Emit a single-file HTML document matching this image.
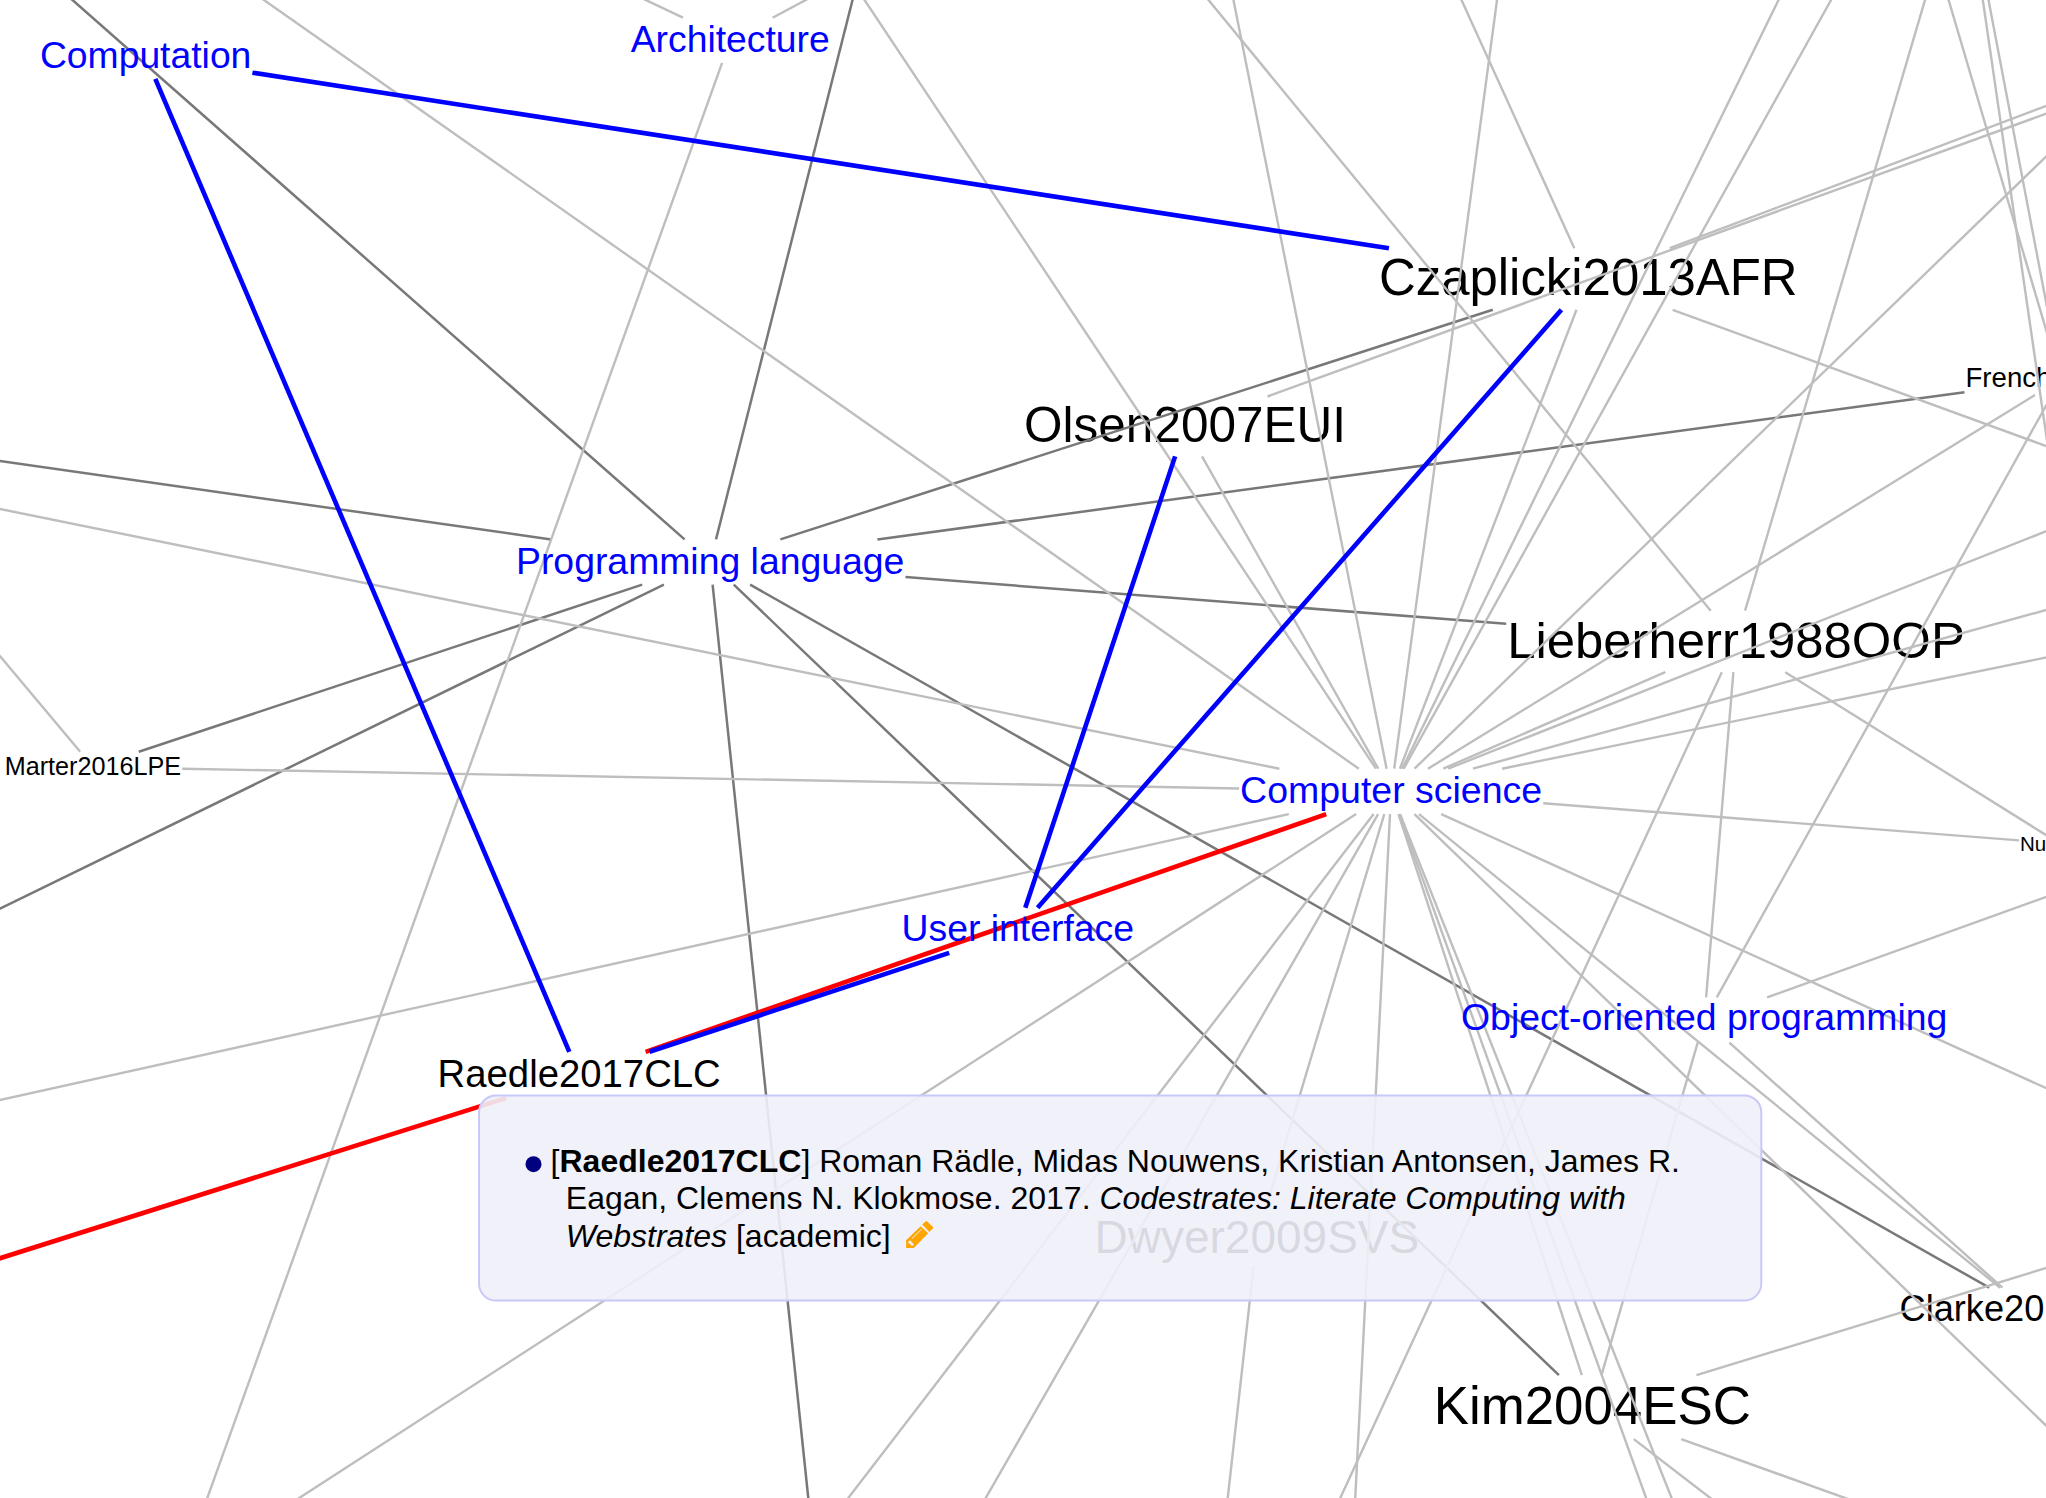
<!DOCTYPE html>
<html><head><meta charset="utf-8"><title>Graph</title>
<style>
html,body{margin:0;padding:0;background:#fff;width:2046px;height:1498px;overflow:hidden}
svg{display:block;position:absolute;left:0;top:0}
text{font-family:"Liberation Sans",sans-serif}
</style></head><body>
<svg width="2046" height="1498" viewBox="0 0 2046 1498">
<rect width="2046" height="1498" fill="#fff"/>
<g>
<text x="1379.0" y="295.0" font-size="50.9" fill="#000000">Czaplicki2013AFR</text>
<text x="1024.1" y="442.0" font-size="49.5" fill="#000000">Olsen2007EUI</text>
<text x="1507.2" y="657.5" font-size="50.82" fill="#000000">Lieberherr1988OOP</text>
<text x="4.7" y="775.0" font-size="25.2" fill="#000000">Marter2016LPE</text>
<text x="437.6" y="1087.0" font-size="38.3" fill="#000000">Raedle2017CLC</text>
<text x="1094.5" y="1252.5" font-size="46.0" fill="#000000">Dwyer2009SVS</text>
<text x="1433.7" y="1423.8" font-size="52.83" fill="#000000">Kim2004ESC</text>
<text x="1965.5" y="387.1" font-size="27.6" fill="#000000">French2013MO</text>
<text x="1899.5" y="1321.0" font-size="36.2" fill="#000000">Clarke2011ABC</text>
<text x="2020.0" y="851.1" font-size="20.5" fill="#000000">Nunes2015XY</text>
</g>
<g stroke="#787878" stroke-width="2.5">
<line x1="684.6" y1="539.4" x2="50.0" y2="-19.8"/>
<line x1="716.0" y1="539.4" x2="859.9" y2="-29.1"/>
<line x1="780.4" y1="539.4" x2="1492.8" y2="309.8"/>
<line x1="877.4" y1="539.4" x2="1964.5" y2="392.3"/>
<line x1="905.5" y1="577.1" x2="1506.2" y2="623.7"/>
<line x1="551.2" y1="539.4" x2="-29.7" y2="456.8"/>
<line x1="642.2" y1="584.6" x2="138.8" y2="751.8"/>
<line x1="663.9" y1="584.6" x2="-27.0" y2="921.9"/>
<line x1="712.6" y1="584.6" x2="811.4" y2="1527.8"/>
<line x1="733.8" y1="584.6" x2="1558.9" y2="1375.2"/>
<line x1="750.1" y1="584.6" x2="1989.2" y2="1287.7"/>
</g>
<g stroke="#bebebe" stroke-width="2.4">
<line x1="1358.8" y1="768.7" x2="239.4" y2="-17.2"/>
<line x1="682.9" y1="17.7" x2="618.7" y2="-12.9"/>
<line x1="772.6" y1="17.7" x2="832.2" y2="-14.1"/>
<line x1="722.1" y1="62.8" x2="197.2" y2="1526.2"/>
<line x1="1376.0" y1="768.7" x2="847.9" y2="-25.0"/>
<line x1="1710.7" y1="610.7" x2="1189.4" y2="-23.2"/>
<line x1="1386.6" y1="768.7" x2="1227.6" y2="-29.4"/>
<line x1="1394.2" y1="768.7" x2="1501.0" y2="-29.7"/>
<line x1="1574.3" y1="248.2" x2="1449.1" y2="-27.3"/>
<line x1="1267.5" y1="396.5" x2="2074.2" y2="103.5"/>
<line x1="1576.5" y1="309.8" x2="1399.9" y2="768.7"/>
<line x1="1402.2" y1="768.7" x2="1791.7" y2="-26.9"/>
<line x1="1403.7" y1="768.7" x2="1845.6" y2="-26.2"/>
<line x1="1745.1" y1="610.7" x2="1933.5" y2="-28.8"/>
<line x1="2055.5" y1="361.7" x2="1940.1" y2="-28.8"/>
<line x1="2057.4" y1="361.7" x2="1982.9" y2="-29.5"/>
<line x1="1978.5" y1="-29.7" x2="2050.3" y2="463.2"/>
<line x1="1669.8" y1="248.2" x2="2074.1" y2="95.4"/>
<line x1="1672.7" y1="309.8" x2="2074.2" y2="456.3"/>
<line x1="1414.5" y1="768.7" x2="2067.5" y2="135.8"/>
<line x1="2035.0" y1="395.1" x2="1428.0" y2="768.7"/>
<line x1="2051.9" y1="395.1" x2="1716.8" y2="997.4"/>
<line x1="1665.3" y1="672.2" x2="1443.3" y2="768.7"/>
<line x1="1733.4" y1="672.2" x2="1706.1" y2="997.4"/>
<line x1="1721.8" y1="672.2" x2="1327.7" y2="1525.2"/>
<line x1="1785.3" y1="672.2" x2="2071.4" y2="850.9"/>
<line x1="1448.2" y1="768.7" x2="2073.9" y2="520.2"/>
<line x1="1473.0" y1="768.7" x2="2074.9" y2="602.0"/>
<line x1="1502.0" y1="768.7" x2="2075.4" y2="651.5"/>
<line x1="1279.4" y1="768.7" x2="-29.4" y2="503.0"/>
<line x1="80.2" y1="751.8" x2="-19.3" y2="633.0"/>
<line x1="182.2" y1="768.7" x2="1239.1" y2="788.5"/>
<line x1="1288.9" y1="814.1" x2="-29.3" y2="1106.5"/>
<line x1="1202.0" y1="456.4" x2="1378.3" y2="768.7"/>
<line x1="1543.2" y1="803.3" x2="2019.0" y2="840.4"/>
<line x1="1356.1" y1="814.1" x2="274.0" y2="1514.3"/>
<line x1="1373.7" y1="814.1" x2="830.0" y2="1521.8"/>
<line x1="1378.1" y1="814.1" x2="970.8" y2="1524.0"/>
<line x1="1384.3" y1="814.1" x2="1265.2" y2="1210.2"/>
<line x1="1390.0" y1="814.1" x2="1353.7" y2="1528.0"/>
<line x1="1398.5" y1="814.1" x2="1581.8" y2="1375.2"/>
<line x1="1399.3" y1="814.1" x2="1656.3" y2="1526.2"/>
<line x1="1400.1" y1="814.1" x2="1682.7" y2="1525.9"/>
<line x1="1414.5" y1="814.1" x2="2067.6" y2="1446.4"/>
<line x1="1419.0" y1="814.1" x2="2000.1" y2="1287.7"/>
<line x1="1441.2" y1="814.1" x2="2073.3" y2="1100.4"/>
<line x1="1697.7" y1="1042.6" x2="1601.5" y2="1375.2"/>
<line x1="1729.4" y1="1042.6" x2="2002.4" y2="1287.7"/>
<line x1="1767.1" y1="997.4" x2="2074.2" y2="886.8"/>
<line x1="1696.5" y1="1375.2" x2="2074.7" y2="1259.2"/>
<line x1="1633.8" y1="1439.1" x2="1734.1" y2="1516.3"/>
<line x1="1681.2" y1="1439.1" x2="1873.2" y2="1508.1"/>
<line x1="1253.7" y1="1265.8" x2="1224.4" y2="1527.8"/>
</g>
<g stroke="#f00" stroke-width="4.6">
<line x1="645.6" y1="1051.8" x2="1326.2" y2="814.1"/>
<line x1="506.0" y1="1098.1" x2="-28.6" y2="1267.3"/>
</g>
<g stroke="#00f" stroke-width="4.6">
<line x1="155.3" y1="78.8" x2="569.3" y2="1051.8"/>
<line x1="252.4" y1="72.7" x2="1388.9" y2="248.2"/>
<line x1="1561.4" y1="309.8" x2="1037.6" y2="907.7"/>
<line x1="1175.1" y1="456.4" x2="1025.3" y2="907.7"/>
<line x1="649.5" y1="1051.8" x2="949.2" y2="952.9"/>
</g>
<g>
<text x="39.9" y="68.0" font-size="37.3" fill="#0000ff">Computation</text>
<text x="630.7" y="52.0" font-size="37.3" fill="#0000ff">Architecture</text>
<text x="516.0" y="573.8" font-size="37.37" fill="#0000ff">Programming language</text>
<text x="1240.1" y="803.2" font-size="37.48" fill="#0000ff">Computer science</text>
<text x="901.5" y="940.9" font-size="37.36" fill="#0000ff">User interface</text>
<text x="1461.0" y="1030.0" font-size="37.4" fill="#0000ff">Object-oriented programming</text>
</g>
<g>
<rect x="479" y="1095.5" width="1282.3" height="205.1" rx="17" ry="17" fill="#f0f0fa" fill-opacity="0.9" stroke="#c8c8fa" stroke-width="2"/>
<circle cx="533.5" cy="1164.2" r="8" fill="#000080"/>
<text x="550.6" y="1172.3" font-size="32" fill="#000">[<tspan font-weight="bold">Raedle2017CLC</tspan>] Roman Rädle, Midas Nouwens, Kristian Antonsen, James R.</text>
<text x="565.8" y="1209.4" font-size="32" fill="#000">Eagan, Clemens N. Klokmose. 2017. <tspan font-style="italic">Codestrates: Literate Computing with</tspan></text>
<text x="565.8" y="1246.5" font-size="32" fill="#000"><tspan font-style="italic">Webstrates</tspan> [academic]</text>
<g fill="#ffa500">
<path d="M920.7,1226.2 L928.2,1233.3 L913.8,1248 L906.1,1248 L906.1,1240.3 Z"/>
<path d="M922.2,1224.4 L925.8,1221.3 Q926.5,1220.8 927.2,1221.4 L932.8,1226.8 Q933.4,1227.6 932.8,1228.4 L929.4,1232.1 Z"/>
</g>
<line x1="921.6" y1="1229.2" x2="911.7" y2="1238.8" stroke="#f4f4fb" stroke-width="1"/>
<path d="M908.4,1241.6 L910.2,1240.2 L913.9,1244.4 L912.3,1246 L910.6,1245.6 L910.6,1243.8 L908.4,1243.6 Z" fill="#f0f0fa"/>
</g>
</svg>
</body></html>
